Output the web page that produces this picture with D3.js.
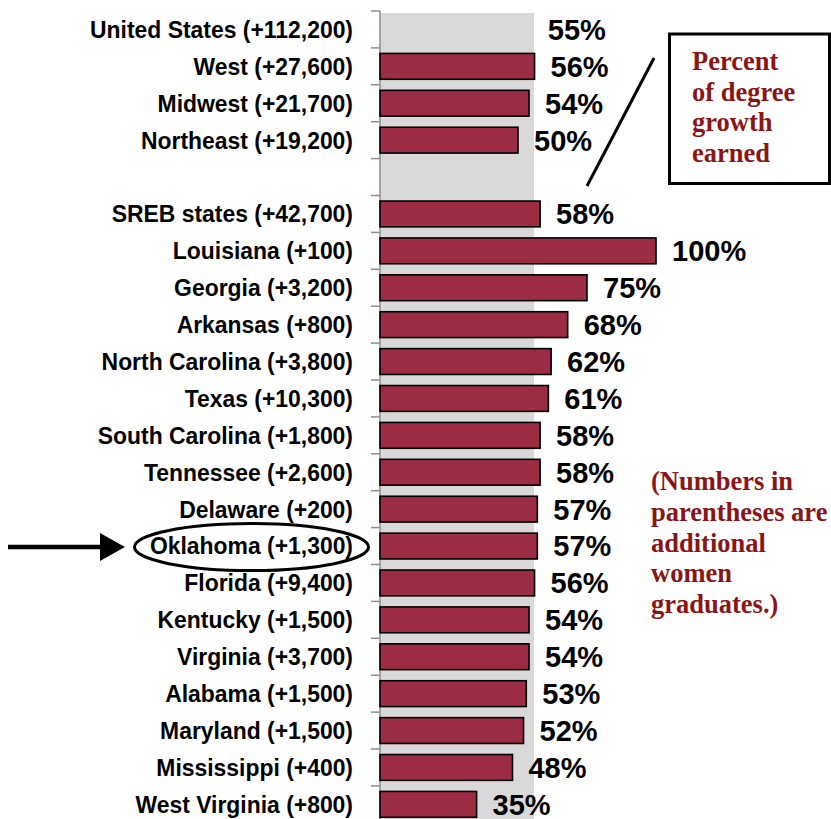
<!DOCTYPE html>
<html>
<head>
<meta charset="utf-8">
<script src="https://cdn.jsdelivr.net/npm/d3@7"></script>
<style>
  body { margin: 0; background: #fff; }
  svg { display: block; }
</style>
</head>
<body>
<div id="chart"></div>
<script>
// rows, top to bottom (the empty name is the gap row)
var names = ["United States", "West", "Midwest", "Northeast", "", "SREB states", "Louisiana", "Georgia",
  "Arkansas", "North Carolina", "Texas", "South Carolina", "Tennessee", "Delaware", "Oklahoma", "Florida",
  "Kentucky", "Virginia", "Alabama", "Maryland", "Mississippi", "West Virginia"];
var added = ["+112,200", "+27,600", "+21,700", "+19,200", null, "+42,700", "+100", "+3,200",
  "+800", "+3,800", "+10,300", "+1,800", "+2,600", "+200", "+1,300", "+9,400",
  "+1,500", "+3,700", "+1,500", "+1,500", "+400", "+800"];
var pct = [55, 56, 54, 50, null, 58, 100, 75, 68, 62, 61, 58, 58, 57, 57, 56, 54, 54, 53, 52, 48, 35];
var usBandPct = 55.8; // the grey band behind the bars (United States)
var legendLines = ["Percent", "of degree", "growth", "earned"];
var noteLines = ["(Numbers in", "parentheses are", "additional", "women", "graduates.)"];
var highlight = "Oklahoma";

var width = 831, height = 819;

var svg = d3.select("#chart").append("svg")
    .attr("width", width)
    .attr("height", height);

var rows = names.map(function (n, i) { return { key: "r" + i, name: n, added: added[i], pct: pct[i] }; });

var x = d3.scaleLinear().domain([0, 100]).range([380, 656]);
var y = d3.scaleBand()
    .domain(rows.map(function (d) { return d.key; }))
    .range([11, 11 + 36.9 * rows.length])
    .paddingInner(0.3)
    .paddingOuter(0.15);

// grey US band
svg.append("rect")
    .attr("x", x(0))
    .attr("y", y.range()[0] + 2)
    .attr("width", x(usBandPct) - x(0))
    .attr("height", height)
    .attr("fill", "#d9d9d9");

// axis with ticks on row boundaries
var bounds = d3.range(rows.length + 1).map(function (i) { return y.range()[0] + i * y.step(); });
svg.append("line")
    .attr("x1", x(0)).attr("x2", x(0))
    .attr("y1", bounds[0]).attr("y2", height)
    .attr("stroke", "#8c8c8c")
    .attr("stroke-width", 1.5);
svg.selectAll(".tick")
    .data(bounds)
    .enter().append("line")
    .attr("x1", x(0) - 9).attr("x2", x(0))
    .attr("y1", function (d) { return d; })
    .attr("y2", function (d) { return d; })
    .attr("stroke", "#8c8c8c")
    .attr("stroke-width", 1.5);

// bars (US shown by the band only)
svg.selectAll(".bar")
    .data(rows.filter(function (d, i) { return d.pct != null && i > 0; }))
    .enter().append("rect")
    .attr("class", "bar")
    .attr("x", x(0))
    .attr("y", function (d) { return y(d.key); })
    .attr("width", function (d) { return x(d.pct) - x(0); })
    .attr("height", y.bandwidth())
    .attr("fill", "#9c2c43")
    .attr("stroke", "#000")
    .attr("stroke-width", 1.6);

// value labels
svg.selectAll(".val")
    .data(rows.filter(function (d) { return d.pct != null; }))
    .enter().append("text")
    .attr("x", function (d) { return x(d.pct) + 16; })
    .attr("y", function (d) { return y(d.key) + y.bandwidth() / 2; })
    .attr("dy", "0.36em")
    .attr("font-family", "Liberation Sans, Arial, sans-serif")
    .attr("font-weight", "bold")
    .attr("font-size", 29)
    .text(function (d) { return d.pct + "%"; });

// category labels (slightly condensed, like the original)
svg.selectAll(".cat")
    .data(rows.filter(function (d) { return d.name !== ""; }))
    .enter().append("text")
    .attr("transform", function (d) {
        return "translate(353," + (y(d.key) + y.bandwidth() / 2) + ") scale(0.955,1)";
    })
    .attr("dy", "0.35em")
    .attr("text-anchor", "end")
    .attr("font-family", "Liberation Sans, Arial, sans-serif")
    .attr("font-weight", "bold")
    .attr("font-size", 24)
    .text(function (d) { return d.name + " (" + d.added + ")"; });

// highlight ellipse + arrow
var hl = rows.filter(function (d) { return d.name === highlight; })[0];
var hy = y(hl.key) + y.bandwidth() / 2 + 1;
svg.append("ellipse")
    .attr("cx", 251.5).attr("cy", hy)
    .attr("rx", 117).attr("ry", 23.5)
    .attr("fill", "none")
    .attr("stroke", "#000")
    .attr("stroke-width", 3);
svg.append("line")
    .attr("x1", 8).attr("x2", 102)
    .attr("y1", hy).attr("y2", hy)
    .attr("stroke", "#000")
    .attr("stroke-width", 4.5);
svg.append("path")
    .attr("d", "M100," + (hy - 14) + "L125," + hy + "L100," + (hy + 14) + "Z")
    .attr("fill", "#000");

// legend box
svg.append("line")
    .attr("x1", 587).attr("y1", 186)
    .attr("x2", 654).attr("y2", 58)
    .attr("stroke", "#000")
    .attr("stroke-width", 3);
svg.append("rect")
    .attr("x", 669.5).attr("y", 34)
    .attr("width", 160).attr("height", 149.5)
    .attr("fill", "#fff")
    .attr("stroke", "#000")
    .attr("stroke-width", 3);
svg.selectAll(".leg")
    .data(legendLines)
    .enter().append("text")
    .attr("x", 692)
    .attr("y", function (d, i) { return 70 + i * 30.7; })
    .attr("font-family", "Liberation Serif, Times New Roman, serif")
    .attr("font-weight", "bold")
    .attr("font-size", 26.5)
    .attr("fill", "#8b1515")
    .text(function (d) { return d; });

// note
svg.selectAll(".note")
    .data(noteLines)
    .enter().append("text")
    .attr("x", 651)
    .attr("y", function (d, i) { return 490 + i * 30.8; })
    .attr("font-family", "Liberation Serif, Times New Roman, serif")
    .attr("font-weight", "bold")
    .attr("font-size", 26.5)
    .attr("fill", "#8b1515")
    .text(function (d) { return d; });
</script>
</body>
</html>
